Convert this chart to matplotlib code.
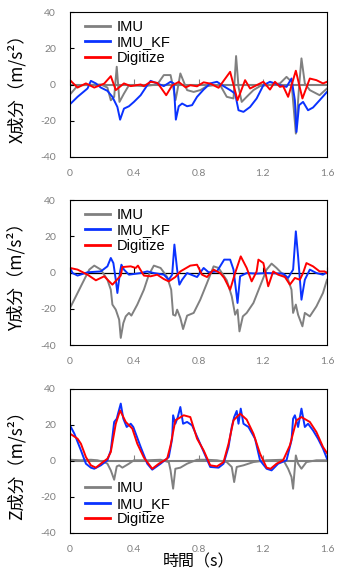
import matplotlib
matplotlib.use("Agg")
import matplotlib.pyplot as plt

# ---------------- data ----------------
series_names = ["IMU", "IMU_KF", "Digitize"]
xticks = [0, 0.4, 0.8, 1.2, 1.6]
xtick_labels = ["0", "0.4", "0.8", "1.2", "1.6"]
yticks = [-40, -20, 0, 20, 40]
ylabels = ["X成分（m/s²）", "Y成分（m/s²）", "Z成分（m/s²）"]
xlabel = "時間（s）"

# X component
x_imu_t = [0, 0.037, 0.068, 0.192, 0.233, 0.254, 0.275, 0.291, 0.308, 0.336, 0.367, 0.46, 0.543,
           0.584, 0.626, 0.646, 0.657, 0.667, 0.687, 0.729, 0.77, 0.811, 0.853, 0.894, 0.935, 0.976,
           1.018, 1.034, 1.049, 1.069, 1.1, 1.142, 1.183, 1.224, 1.307, 1.348, 1.379, 1.406, 1.426,
           1.441, 1.462, 1.493, 1.554, 1.6]
x_imu_v = [-5.5, -1.7, -0.4, 0, -1.7, -8.7, -6.8, 9.8, -9.6, -5.0, -0.4, -0.9, 0,
           5.2, 5.2, -3.1, -8.6, -4.0, 6.1, -3.1, -4.1, -3.1, -0.9, -0.4, -0.4, -6.8,
           -7.7, 15.7, -1.3, -9.6, -6.8, -3.1, -0.9, -0.4, 0.6, 4.2, 1.5, -27.1, -1.3,
           14.4, 0.6, -3.1, -5.9, -2.2]
x_kf_t = [0, 0.047, 0.109, 0.13, 0.161, 0.192, 0.233, 0.264, 0.295, 0.312, 0.336, 0.367, 0.398,
          0.44, 0.481, 0.502, 0.543, 0.584, 0.626, 0.646, 0.659, 0.677, 0.698, 0.729, 0.76, 0.791,
          0.832, 0.873, 0.915, 0.956, 0.997, 1.028, 1.049, 1.08, 1.121, 1.162, 1.204, 1.245, 1.307,
          1.348, 1.379, 1.4, 1.41, 1.426, 1.451, 1.482, 1.513, 1.554, 1.6]
x_kf_v = [-10.9, -6.8, -2.2, 2.0, 0.6, -1.7, -3.5, -6.8, -12.4, -19.4, -13.3, -12.0, -9.6,
          -5.9, -0.4, 2.0, 0.6, -0.9, 1.5, 0.6, -19.4, -12.0, -10.5, -12.0, -11.4, -6.8,
          -2.8, 0.6, 1.5, -0.9, -3.1, -5.0, -14.2, -15.1, -12.4, -7.7, -0.4, 1.5, -0.4,
          -1.3, 3.3, -8.7, -26.2, -11.4, -9.6, -14.2, -12.7, -8.7, -4.1]
x_dig_t = [0, 0.047, 0.099, 0.151, 0.213, 0.254, 0.285, 0.336, 0.378, 0.44, 0.46, 0.502, 0.543,
           0.564, 0.599, 0.636, 0.677, 0.72, 0.749, 0.791, 0.832, 0.873, 0.925, 0.997, 1.043,
           1.09, 1.121, 1.204, 1.245, 1.276, 1.307, 1.327, 1.358, 1.406, 1.447, 1.493, 1.534,
           1.575, 1.6]
x_dig_v = [2.4, -1.7, 0.6, -1.7, 0.5, 4.6, -3.1, 0.6, -0.9, 0, -0.9, 1.5, 0.9,
           -1.5, -5.9, -0.5, 1.4, -1.6, -0.4, -1.0, 1.2, 0.5, -1.8, 7.0, -8.7,
           2.4, -2.2, 1.5, -2.8, 1.5, -1.3, -0.9, -6.8, 7.6, -7.7, 3.3, 2.4,
           0.6, 1.5]

# Y component
y_imu_t = [0, 0.037, 0.078, 0.12, 0.151, 0.192, 0.233, 0.254, 0.264, 0.285, 0.306, 0.316, 0.332,
           0.347, 0.367, 0.382, 0.419, 0.46, 0.491, 0.522, 0.564, 0.605, 0.63, 0.642, 0.656, 0.667,
           0.687, 0.704, 0.729, 0.77, 0.811, 0.853, 0.894, 0.925, 0.976, 1.007, 1.028, 1.043, 1.055,
           1.076, 1.1, 1.142, 1.183, 1.224, 1.255, 1.286, 1.327, 1.358, 1.379, 1.389, 1.406, 1.42,
           1.447, 1.462, 1.493, 1.534, 1.575, 1.6]
y_imu_v = [-19.6, -13.1, -5.8, 1.6, 3.8, 1.6, -4.0, -9.5, -17.7, -20.5, -26.0, -36.1, -27.9,
           -24.2, -22.3, -23.8, -17.7, -9.5, -1.2, 3.8, 2.5, -2.5, -9.5, -23.3, -23.8, -20.5,
           -25.1, -31.2, -23.8, -22.3, -15.0, -5.8, 3.4, 2.5, -4.3, -13.1, -23.3, -20.5, -32.5,
           -24.2, -22.3, -16.8, -7.6, 1.6, 4.9, 2.5, -1.2, -4.0, -9.5, -22.3, -17.7, -23.3,
           -29.7, -22.3, -24.2, -18.7, -11.3, -4.0]
y_kf_t = [0, 0.016, 0.047, 0.109, 0.192, 0.233, 0.254, 0.27, 0.285, 0.295, 0.312, 0.32, 0.336,
          0.367, 0.44, 0.481, 0.522, 0.584, 0.615, 0.636, 0.65, 0.667, 0.681, 0.698, 0.729, 0.791,
          0.832, 0.863, 0.915, 0.96, 0.997, 1.018, 1.043, 1.059, 1.1, 1.162, 1.224, 1.327, 1.358,
          1.389, 1.406, 1.42, 1.441, 1.462, 1.493, 1.534, 1.575, 1.6]
y_kf_v = [2.5, -0.3, -1.7, 0.1, 0.6, 3.4, 8.0, 5.2, -4.0, -11.3, 0.6, 4.3, 1.6,
          -1.2, -0.3, 0.6, -0.3, -1.2, -4.0, -1.2, 15.4, 1.6, -6.7, -4.0, -0.3, -2.5,
          2.5, 0.1, 0.6, 7.1, 7.1, 1.6, -16.8, -2.1, -0.3, -0.6, -0.3, -0.6, -3.0,
          1.6, 22.7, 8.9, -15.0, -4.0, 1.6, -0.3, -1.2, 0.1]
y_dig_t = [0, 0.047, 0.109, 0.161, 0.213, 0.264, 0.316, 0.326, 0.378, 0.409, 0.423, 0.46, 0.502,
           0.543, 0.584, 0.615, 0.656, 0.687, 0.749, 0.791, 0.822, 0.853, 0.894, 0.935, 0.96,
           0.997, 1.028, 1.063, 1.1, 1.131, 1.162, 1.173, 1.204, 1.234, 1.265, 1.296, 1.338,
           1.369, 1.4, 1.431, 1.451, 1.472, 1.513, 1.554, 1.585, 1.6]
y_dig_v = [2.5, 1.6, -1.2, -4.3, -2.1, -6.7, -1.7, 3.0, 3.4, 2.5, 3.8, -1.7, -2.1,
           -1.2, -3.6, -4.9, -2.5, 0.6, 3.8, 4.3, -1.2, -2.5, 1.6, -0.3, -3.0,
           -9.5, -0.3, 8.9, 2.5, -4.9, 0.6, 7.1, 5.2, -7.6, 0.6, -1.2, -2.5,
           -6.7, -3.0, -4.0, -0.3, 5.2, 3.4, 0.6, 0.6, -0.3]

# Z component
z_imu_t = [0, 0.068, 0.13, 0.171, 0.213, 0.233, 0.254, 0.275, 0.291, 0.306, 0.326, 0.367, 0.398,
           0.481, 0.564, 0.615, 0.626, 0.642, 0.656, 0.687, 0.729, 0.791, 0.853, 0.915, 0.976,
           1.007, 1.022, 1.038, 1.08, 1.142, 1.224, 1.327, 1.358, 1.379, 1.389, 1.406, 1.42,
           1.441, 1.472, 1.534, 1.6]
z_imu_v = [0.7, 0.4, 0.7, 0.4, -0.6, -1.5, -5.2, -10.4, -3.0, -2.4, -3.7, -1.5, 0.4,
           0.4, 0.7, -0.6, -5.2, -15.4, -4.3, -3.7, -1.5, 0.7, 0.7, 0.4, -0.6,
           -3.3, -11.7, -3.3, -2.4, -0.6, 0.4, 0.7, -4.3, -8.9, -15.4, 3.1, -1.5,
           -4.3, -0.6, 0.4, 0.4]
z_kf_t = [0, 0.027, 0.068, 0.099, 0.13, 0.151, 0.192, 0.233, 0.254, 0.275, 0.291, 0.299, 0.316,
          0.332, 0.353, 0.378, 0.394, 0.44, 0.481, 0.512, 0.564, 0.615, 0.636, 0.642, 0.656,
          0.671, 0.687, 0.704, 0.729, 0.76, 0.801, 0.842, 0.873, 0.925, 0.956, 0.987, 1.007,
          1.022, 1.038, 1.049, 1.063, 1.08, 1.111, 1.152, 1.183, 1.224, 1.255, 1.296, 1.348,
          1.379, 1.389, 1.4, 1.42, 1.441, 1.462, 1.482, 1.513, 1.544, 1.575, 1.6]
z_kf_v = [19.8, 15.2, 5.9, -1.5, -3.7, -4.3, -2.4, 0.4, 5.9, 21.7, 23.5, 26.3, 31.9,
          23.5, 18.9, 20.7, 18.9, 7.8, -1.5, -4.8, -1.5, 2.2, 12.4, 25.4, 20.7,
          24.4, 30.0, 20.7, 21.7, 19.8, 11.5, 3.1, -3.3, -3.7, -1.5, 7.8, 18.9,
          24.4, 27.8, 20.7, 29.1, 20.7, 18.9, 12.4, 0.4, -4.3, -5.2, -1.5, 0.4,
          11.5, 23.5, 25.4, 18.9, 29.1, 18.9, 20.7, 17.0, 12.4, 6.9, 1.3]
z_dig_t = [0, 0.047, 0.068, 0.099, 0.13, 0.161, 0.192, 0.233, 0.254, 0.285, 0.312, 0.347, 0.388,
           0.419, 0.46, 0.512, 0.553, 0.605, 0.626, 0.656, 0.708, 0.749, 0.791, 0.832, 0.873,
           0.915, 0.956, 0.987, 1.018, 1.059, 1.1, 1.142, 1.183, 1.224, 1.249, 1.286, 1.327,
           1.369, 1.41, 1.441, 1.493, 1.534, 1.575, 1.6]
z_dig_v = [15.2, 12.4, 9.6, 2.2, -2.4, -3.7, -1.5, 1.3, 5.0, 20.7, 28.1, 21.7, 18.0,
           9.6, 1.9, -4.3, -1.5, 1.3, 8.7, 22.6, 25.4, 24.4, 12.4, 5.9, -2.4,
           -3.0, -0.6, 9.6, 22.6, 26.3, 23.0, 15.2, 4.1, -3.7, -4.3, -1.5, 0.4,
           8.7, 22.6, 24.4, 21.7, 16.1, 7.8, 4.4]

panels = [
    [(x_imu_t, x_imu_v), (x_kf_t, x_kf_v), (x_dig_t, x_dig_v)],
    [(y_imu_t, y_imu_v), (y_kf_t, y_kf_v), (y_dig_t, y_dig_v)],
    [(z_imu_t, z_imu_v), (z_kf_t, z_kf_v), (z_dig_t, z_dig_v)],
]

# ---------------- style ----------------
colors = ["#808080", "#0a32ff", "#ff0000"]
zero_colors = ["#808080", "#000000", "#808080"]
zero_widths = [1.5, 0.9, 1.5]
legend_locs = ["upper left", "upper left", "lower left"]
plt.rcParams["axes.unicode_minus"] = False
cjk = ["Noto Sans CJK JP", "DejaVu Sans"]

W, H = 347, 571
fig = plt.figure(figsize=(W / 100, H / 100), dpi=100)
axes_px = [(12, 157), (200, 345), (389, 533)]
left_px, right_px = 70, 327

for i, (top, bot) in enumerate(axes_px):
    ax = fig.add_axes([left_px / W, 1 - bot / H, (right_px - left_px) / W, (bot - top) / H])
    ax.set_xlim(xticks[0], xticks[-1])
    ax.set_ylim(yticks[0], yticks[-1])
    ax.axhline(0, color=zero_colors[i], lw=zero_widths[i], zorder=1.5)
    handles = []
    for (t, v), c, name in zip(panels[i], colors, series_names):
        h, = ax.plot(t, v, color=c, lw=1.4, label=name, zorder=2)
        handles.append(h)
    ax.set_xticks(xticks)
    ax.set_xticklabels(xtick_labels)
    ax.set_yticks(yticks)
    ax.set_yticklabels([str(y) for y in yticks])
    ax.tick_params(axis="x", length=0, pad=9, labelsize=7.5, labelcolor="#808080")
    ax.tick_params(axis="y", direction="in", length=3, width=0.8, pad=10,
                   labelsize=7.5, labelcolor="#808080")
    for lab in ax.get_xticklabels() + ax.get_yticklabels():
        lab.set_family("Lato")
    for s in ax.spines.values():
        s.set_color("black")
        s.set_linewidth(0.8)
    # x tick marks on the zero line
    loc = (0 - yticks[0]) / (yticks[-1] - yticks[0])
    sec = ax.secondary_xaxis(loc)
    sec.set_xticks(xticks)
    sec.xaxis.set_ticks_position("bottom")
    sec.tick_params(axis="x", direction="in", length=4, width=0.8,
                    color=zero_colors[i], labelbottom=False, labeltop=False)
    for s in sec.spines.values():
        s.set_visible(False)

    ax.set_ylabel(ylabels[i], family=cjk, fontsize=12.5)
    ax.yaxis.set_label_coords(-44 / (right_px - left_px), 0.5)

    if legend_locs[i] == "upper left":
        anchor = (0.02, 1.015)
    else:
        anchor = (0.02, -0.025)
    leg = ax.legend(handles=handles, loc=legend_locs[i], bbox_to_anchor=anchor,
                    frameon=False, prop={"family": "Liberation Sans", "size": 10.5},
                    handlelength=1.7, handletextpad=0.45, labelspacing=0.1,
                    borderaxespad=0.3)
    for ln in leg.get_lines():
        ln.set_linewidth(2)
    if i == 2:
        ax.set_xlabel(xlabel, family=cjk, fontsize=11.5, labelpad=-1)

fig.savefig("out.png", dpi=100)
